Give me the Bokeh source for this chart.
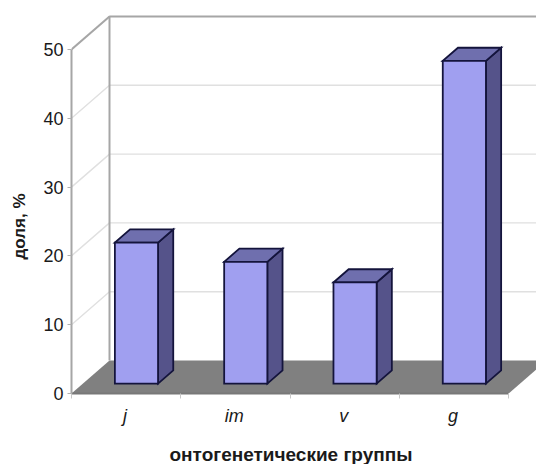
from bokeh.embed import file_html
from bokeh.models import FixedTicker, LinearAxis, Range1d, Title
from bokeh.plotting import figure
from bokeh.resources import INLINE

# Share of each ontogenetic group, in percent
groups = ["j", "im", "v", "g"]
shares = [20.5, 17.7, 14.7, 46.9]
value_ticks = [0, 10, 20, 30, 40, 50]
value_title = "доля, %"
group_title = "онтогенетические группы"

WIDTH, HEIGHT = 536, 464
LEFT, BOTTOM = 71, 71
UNIT_X, UNIT_Y = 109.3, 6.88   # pixels per category and per percent

# Oblique projection: full chart depth expressed in axis units
DEPTH_X = 38 / UNIT_X
DEPTH_Y = 33 / UNIT_Y
BAR_WIDTH = 0.395
BAR_NEAR, BAR_FAR = 0.30, 0.70  # where a bar sits along the depth
CENTRE = 0.49                   # bar centre within its category slot


def project(x, y, depth):
    return x + DEPTH_X * depth, y + DEPTH_Y * depth


p = figure(
    width=WIDTH, height=HEIGHT, output_backend="svg", toolbar_location=None,
    frame_width=WIDTH - LEFT, frame_height=HEIGHT - BOTTOM,
    x_range=Range1d(0, (WIDTH - LEFT) / UNIT_X),
    y_range=Range1d(0, (HEIGHT - BOTTOM) / UNIT_Y),
    x_axis_location=None, y_axis_location=None,
    min_border_left=LEFT, min_border_bottom=BOTTOM,
    min_border_top=0, min_border_right=0,
)
p.grid.visible = False
p.outline_line_color = None
p.background_fill_color = "white"
p.border_fill_color = "white"

n = len(groups)
top = value_ticks[-1]
far_right = (WIDTH - LEFT) / UNIT_X + 1

# Gridlines running along the side wall and across the back wall
for v in value_ticks[1:-1]:
    bx, by = project(0, v, 1)
    p.line([0, bx, far_right], [v, by, by], line_color="#e0e0e0", line_width=1.4)

# Floor
corners = [project(0, 0, 0), project(n, 0, 0), project(n, 0, 1), project(0, 0, 1)]
p.patch([c[0] for c in corners], [c[1] for c in corners], fill_color="#808080", line_color=None)

# Wall edges
bx0, by0 = project(0, 0, 1)
bx1, by1 = project(0, top, 1)
p.line([bx0, bx1, far_right], [by0, by1, by1], line_color="#a6a6a6", line_width=2)
p.line([0, bx1], [top, by1], line_color="#a6a6a6", line_width=2)

# Bars: side and top faces first, the front face over them
EDGE = "#14143c"
for i, share in enumerate(shares):
    x0 = i + CENTRE - BAR_WIDTH / 2
    x1 = i + CENTRE + BAR_WIDTH / 2
    a = project(x0, 0, BAR_NEAR)
    b = project(x1, 0, BAR_NEAR)
    c = project(x1, share, BAR_NEAR)
    d = project(x0, share, BAR_NEAR)
    e = project(x1, 0, BAR_FAR)
    f = project(x1, share, BAR_FAR)
    g = project(x0, share, BAR_FAR)
    for face, colour in (((b, e, f, c), "#55538a"),
                         ((d, c, f, g), "#6f6fae"),
                         ((a, b, c, d), "#a09ff0")):
        p.patch([q[0] for q in face], [q[1] for q in face], fill_color=colour,
                line_color=EDGE, line_width=1.8, line_join="miter")

# Value axis along the front edge of the side wall
y_axis = LinearAxis(
    ticker=FixedTicker(ticks=value_ticks), bounds=(0, top),
    axis_line_color="#a6a6a6", axis_line_width=2,
    major_tick_line_color="#b0b0b0", major_tick_in=0, major_tick_out=4,
    minor_tick_line_color=None, major_label_standoff=4,
    major_label_text_font="Liberation Sans", major_label_text_font_size="18px",
    major_label_text_color="#1a1a1a",
)
p.add_layout(y_axis, "left")

# Category axis: ticks between groups, labels centred on each group
centres = [i + CENTRE for i in range(n)]
x_axis = LinearAxis(
    ticker=FixedTicker(ticks=centres, minor_ticks=list(range(n + 1))), bounds=(0, n),
    major_label_overrides=dict(zip(centres, groups)),
    axis_line_color="#787878", axis_line_width=2,
    major_tick_line_color=None, minor_tick_line_color="#c8c8c8",
    minor_tick_in=0, minor_tick_out=5, major_tick_in=0, major_tick_out=0,
    major_label_standoff=7,
    major_label_text_font="Liberation Sans", major_label_text_font_style="italic",
    major_label_text_font_size="18px", major_label_text_color="#1a1a1a",
)
p.add_layout(x_axis, "below")

# Axis titles, offset along the axes so they sit centred on the drawn axis length
p.add_layout(Title(
    text=value_title, align="left", offset=134, standoff=19, vertical_align="top",
    text_font="Liberation Sans", text_font_style="bold", text_font_size="17px",
    text_color="#1a1a1a",
), "left")
p.add_layout(Title(
    text=group_title, align="left", offset=98, standoff=26, vertical_align="bottom",
    text_font="Liberation Sans", text_font_style="bold", text_font_size="19px",
    text_color="#1a1a1a",
), "below")

open("out.html", "w").write(file_html(p, INLINE))
